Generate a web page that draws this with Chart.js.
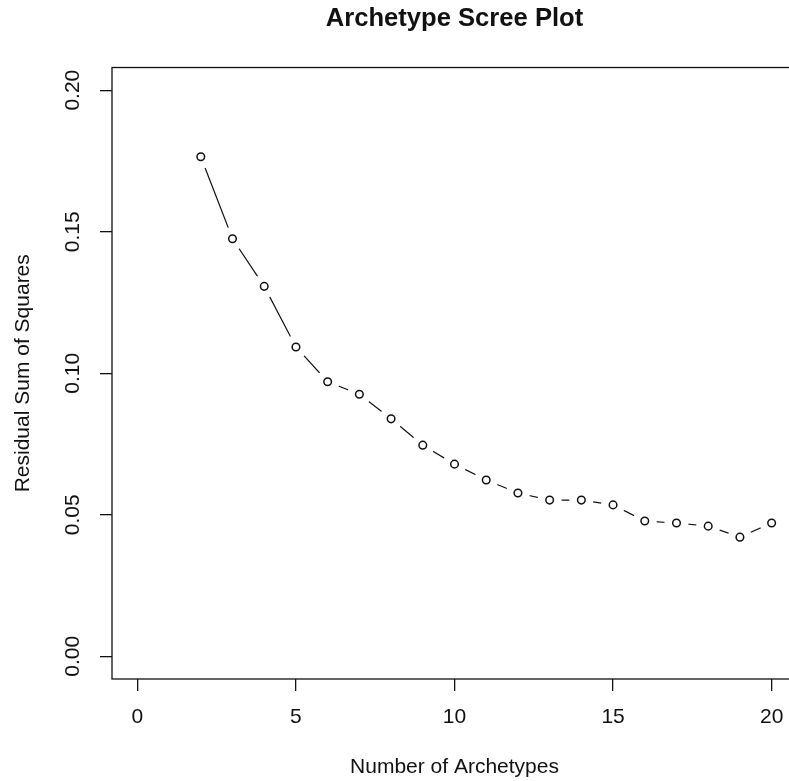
<!DOCTYPE html>
<html>
<head>
<meta charset="utf-8">
<script src="https://cdn.jsdelivr.net/npm/chart.js@4.4.1/dist/chart.umd.min.js"></script>
<style>
  html, body { margin: 0; padding: 0; background: #fff; overflow: hidden; }
  #scree { display: block; }
</style>
</head>
<body>
<canvas id="scree" width="800" height="781" style="width:800px;height:781px"></canvas>
<script>
// --- data ---
const archetypes = [2, 3, 4, 5, 6, 7, 8, 9, 10, 11, 12, 13, 14, 15, 16, 17, 18, 19, 20];
const rss = [0.1765, 0.1475, 0.1307, 0.1093, 0.0970, 0.0926, 0.0839, 0.0746, 0.0679, 0.0623,
             0.0577, 0.0552, 0.0552, 0.0535, 0.0478, 0.0471, 0.0460, 0.0421, 0.0471];
const xTicks = [0, 5, 10, 15, 20];
const yTicks = [0.00, 0.05, 0.10, 0.15, 0.20];

const FONT = "'Liberation Sans', Arial, sans-serif";
const INK = "#111";

const points = archetypes.map((x, i) => ({ x, y: rss[i] }));

// R style box around the plot region
const boxPlugin = {
    id: "plotBox",
    afterDraw(chart) {
        const { ctx, chartArea: a } = chart;
        ctx.save();
        ctx.strokeStyle = INK;
        ctx.lineWidth = 1.3;
        ctx.strokeRect(a.left, a.top, a.right - a.left, a.bottom - a.top);
        ctx.restore();
    }
};

// no extra label padding pushed into the layout
function noPad(s) {
    s.paddingLeft = 0; s.paddingRight = 0; s.paddingTop = 0; s.paddingBottom = 0;
}

new Chart(document.getElementById("scree"), {
    type: "scatter",
    data: {
        datasets: [
            { // connecting line
                data: points, showLine: true, borderColor: INK, borderWidth: 1.2,
                pointRadius: 0, order: 3
            },
            { // white gaps around the points (type = "b")
                data: points, showLine: false, pointRadius: 12, pointBorderWidth: 0,
                pointBackgroundColor: "#fff", order: 2
            },
            { // open circles
                data: points, showLine: false, pointRadius: 3.8, pointBorderWidth: 1.5,
                pointBorderColor: INK, pointBackgroundColor: "#fff", order: 1
            }
        ]
    },
    options: {
        responsive: false,
        animation: false,
        events: [],
        layout: { autoPadding: false, padding: { left: 0, right: 3, top: 0, bottom: 0 } },
        plugins: {
            legend: { display: false },
            tooltip: { enabled: false },
            title: {
                display: true,
                text: "Archetype Scree Plot",
                color: INK,
                fullSize: false,
                font: { family: FONT, size: 25.6, weight: "bold", lineHeight: 1.2 },
                padding: { top: 4, bottom: 32.8 }
            }
        },
        scales: {
            x: {
                type: "linear",
                min: -0.8, max: 20.8,
                afterBuildTicks: s => { s.ticks = xTicks.map(v => ({ value: v })); },
                afterFit: s => { s.height = 102; noPad(s); },
                grid: { drawOnChartArea: false, drawTicks: true, tickLength: 12, tickColor: INK, lineWidth: 1.3 },
                border: { display: false },
                ticks: {
                    color: INK, padding: 14, maxRotation: 0, autoSkip: false,
                    font: { family: FONT, size: 21 }
                },
                title: {
                    display: true, text: "Number of Archetypes", color: INK,
                    font: { family: FONT, size: 21, lineHeight: 1.3 },
                    padding: { top: 0, bottom: 0 }
                }
            },
            y: {
                type: "linear",
                min: -0.008, max: 0.208,
                afterBuildTicks: s => { s.ticks = yTicks.map(v => ({ value: v })); },
                afterFit: s => { s.width = 112; noPad(s); },
                grid: { drawOnChartArea: false, drawTicks: true, tickLength: 12, tickColor: INK, lineWidth: 1.3 },
                border: { display: false },
                ticks: {
                    color: INK, padding: 6, minRotation: 90, maxRotation: 90,
                    crossAlign: "center", autoSkip: false,
                    font: { family: FONT, size: 21 },
                    callback: v => v.toFixed(2)
                },
                title: {
                    display: true, text: "Residual Sum of Squares", color: INK,
                    font: { family: FONT, size: 21, lineHeight: 1.2 },
                    padding: { top: 11, bottom: 0 }
                }
            }
        }
    },
    plugins: [boxPlugin]
});
</script>
</body>
</html>
